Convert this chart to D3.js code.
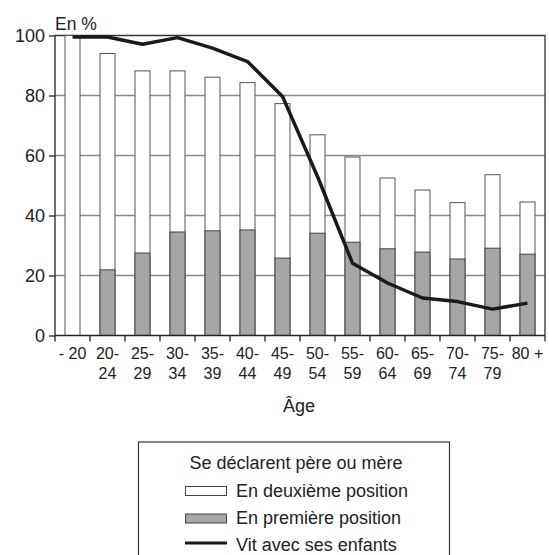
<!DOCTYPE html>
<html><head><meta charset="utf-8">
<script src="https://cdn.jsdelivr.net/npm/d3@7"></script>
<style>
body{margin:0;background:#fff;}
text{font-family:"Liberation Sans",Arial,sans-serif;fill:#222;}
</style></head>
<body><svg id="c" width="549" height="555"></svg>
<script>
const categories = ["- 20","20-24","25-29","30-34","35-39","40-44","45-49","50-54","55-59","60-64","65-69","70-74","75-79","80 +"];
const tickLines = [["- 20"],["20-","24"],["25-","29"],["30-","34"],["35-","39"],["40-","44"],["45-","49"],["50-","54"],["55-","59"],["60-","64"],["65-","69"],["70-","74"],["75-","79"],["80 +"]];
const totalParent = [100,94,88.2,88.2,86.1,84.3,77.3,66.9,59.5,52.5,48.5,44.3,53.6,44.5];
const firstPosition = [0,21.9,27.5,34.5,34.9,35.2,25.8,34.1,31.1,28.9,27.8,25.5,29.1,27.1];
const livesWithChildren = [99.5,99.5,97.1,99.3,95.8,91.3,79.7,53,24.1,17.5,12.5,11.3,8.8,10.8];
const yTicks = [0,20,40,60,80,100];

const svg = d3.select("#c");
const m = {l:55, r:545, t:35.5, b:335.5};
const x = d3.scaleBand().domain(categories).range([m.l, m.r]).paddingInner(0).paddingOuter(0);
const y = d3.scaleLinear().domain([0,100]).range([m.b, m.t]);
const bw = 15;

// grid
svg.append("g").selectAll("line").data(yTicks.filter(d=>d>0 && d<100)).join("line")
  .attr("x1", m.l).attr("x2", m.r).attr("y1", d=>y(d)).attr("y2", d=>y(d))
  .attr("stroke","#8a8a8a").attr("stroke-width",1.3);
// plot border top/right
svg.append("path").attr("d",`M${m.l},${y(100)}H${m.r}V${m.b}`).attr("fill","none").attr("stroke","#333").attr("stroke-width",1.3);

const cx = d => x(d) + x.bandwidth()/2;
svg.append("g").selectAll("rect").data(categories).join("rect")
  .attr("x", (d)=>cx(d)-bw/2).attr("width", bw)
  .attr("y", (d,i)=>y(totalParent[i])).attr("height", (d,i)=>y(0)-y(totalParent[i]))
  .attr("fill","#fff").attr("stroke","#555").attr("stroke-width",1);
svg.append("g").selectAll("rect").data(categories.filter((d,i)=>firstPosition[i]>0)).join("rect")
  .attr("x", d=>cx(d)-bw/2).attr("width", bw)
  .attr("y", d=>y(firstPosition[categories.indexOf(d)]))
  .attr("height", d=>y(0)-y(firstPosition[categories.indexOf(d)]))
  .attr("fill","#a6a6a8").attr("stroke","#444").attr("stroke-width",1);

// line
const line = d3.line().x((d,i)=>cx(categories[i])).y(d=>y(d)).curve(d3.curveLinear);
svg.append("path").datum(livesWithChildren).attr("d", line)
  .attr("fill","none").attr("stroke","#1a1a1a").attr("stroke-width",3.5).attr("stroke-linejoin","round");

// y axis
const ya = svg.append("g").attr("transform",`translate(${m.l},0)`)
  .call(d3.axisLeft(y).tickValues(yTicks).tickSize(6).tickPadding(4));
ya.select(".domain").attr("stroke","#222").attr("stroke-width",1.3).attr("d",`M-0,${m.b}V${m.t}`);
ya.selectAll(".tick line").attr("stroke","#222").attr("stroke-width",1.3);
ya.selectAll(".tick text").style("font-size","18px").attr("fill","#222").style("font-family","Liberation Sans, Arial, sans-serif");

// x axis
const xa = svg.append("g").attr("transform",`translate(0,${m.b})`)
  .call(d3.axisBottom(x).tickSize(0).tickFormat(""));
xa.select(".domain").attr("stroke","#222").attr("stroke-width",1.3).attr("d",`M${m.l},0H${m.r}`);
const bounds = categories.map(d=>x(d)).concat([m.r]);
svg.append("g").selectAll("line").data(bounds).join("line")
  .attr("x1",d=>d).attr("x2",d=>d).attr("y1",m.b).attr("y2",m.b+6)
  .attr("stroke","#222").attr("stroke-width",1.3);
const lab = svg.append("g").selectAll("text").data(categories).join("text")
  .attr("x", d=>cx(d)).attr("y", 359).attr("text-anchor","middle").style("font-size","16px");
lab.each(function(d,i){
  const t = d3.select(this);
  tickLines[i].forEach((s,j)=>t.append("tspan").attr("x",cx(d)).attr("dy", j===0?0:20).text(s));
});

svg.append("text").attr("x",55).attr("y",30).style("font-size","17.5px").text("En %");
svg.append("text").attr("x",299).attr("y",412).attr("text-anchor","middle").style("font-size","18px").text("Âge");

// legend
const lg = svg.append("g");
lg.append("rect").attr("x",138.5).attr("y",442).attr("width",311).attr("height",130)
  .attr("fill","#fff").attr("stroke","#333").attr("stroke-width",1.2);
lg.append("text").attr("x",296).attr("y",469).attr("text-anchor","middle").style("font-size","18px").text("Se déclarent père ou mère");
const items = [
  {t:"En deuxième position", type:"rect", fill:"#fff", ry:486.5, ty:496.5},
  {t:"En première position", type:"rect", fill:"#a6a6a8", ry:514, ty:524},
  {t:"Vit avec ses enfants", type:"line", ry:543, ty:550.5}
];
items.forEach((it,i)=>{
  if(it.type==="rect"){
    lg.append("rect").attr("x",185.5).attr("y",it.ry).attr("width",41).attr("height",9)
      .attr("fill",it.fill).attr("stroke","#444").attr("stroke-width",1);
  } else {
    lg.append("line").attr("x1",185).attr("x2",227).attr("y1",it.ry).attr("y2",it.ry)
      .attr("stroke","#1a1a1a").attr("stroke-width",3);
  }
  lg.append("text").attr("x",236).attr("y",it.ty).style("font-size","18px").text(it.t);
});
</script></body></html>
